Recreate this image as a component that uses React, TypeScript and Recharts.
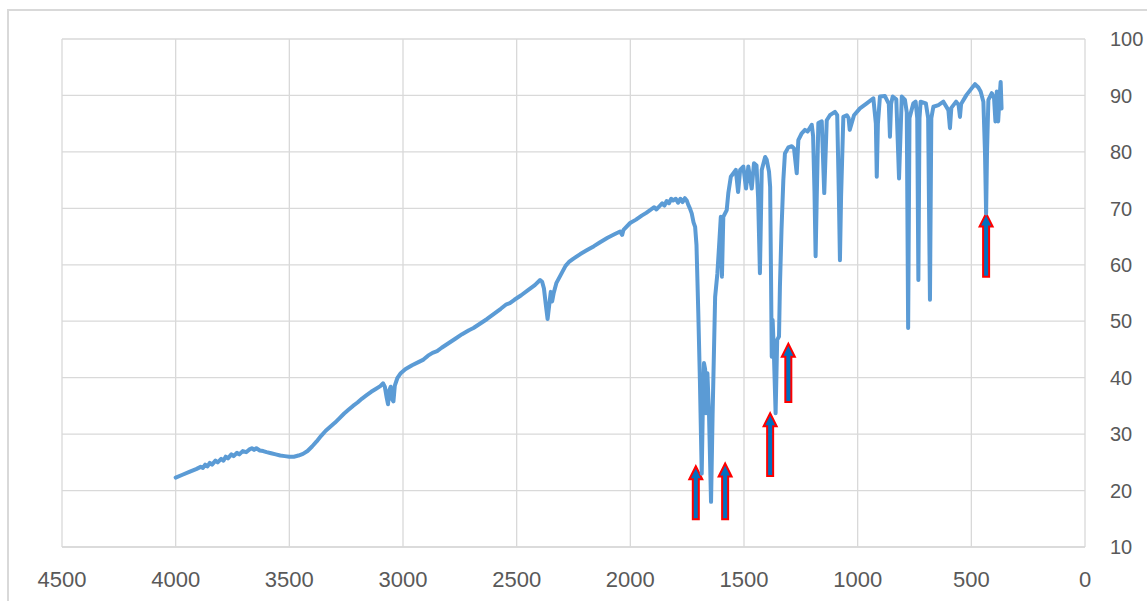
import { CartesianGrid, Line, LineChart, ReferenceArea, XAxis, YAxis } from "recharts"

// IR spectrum, values (cm-1, %T)
const wavenumbers = [
  4000, 3970, 3940, 3910, 3890, 3880, 3870, 3860, 3850, 3840, 3825, 3815, 3800, 3790, 3780, 3770,
  3755, 3745, 3730, 3720, 3705, 3690, 3675, 3665, 3655, 3645, 3630, 3615, 3600, 3580, 3560, 3540,
  3520, 3500, 3480, 3460, 3440, 3420, 3400, 3380, 3360, 3340, 3320, 3300, 3280, 3260, 3240, 3220,
  3200, 3180, 3160, 3140, 3120, 3100, 3088, 3080, 3072, 3066, 3060, 3054, 3048, 3042, 3036, 3025,
  3010, 2990, 2960, 2930, 2910, 2890, 2870, 2850, 2830, 2800, 2770, 2740, 2710, 2690, 2660, 2630,
  2600, 2570, 2545, 2530, 2510, 2480, 2450, 2420, 2397, 2388, 2380, 2372, 2364, 2357, 2350, 2344,
  2337, 2325, 2305, 2285, 2270, 2250, 2220, 2190, 2160, 2133, 2100, 2070, 2045, 2036, 2030, 2001,
  1975, 1950, 1930, 1913, 1895, 1885, 1869, 1860, 1850, 1840, 1830, 1820, 1812, 1800, 1790, 1780,
  1770, 1760, 1752, 1745, 1738, 1730, 1722, 1715, 1709, 1701, 1694, 1686, 1681, 1676, 1671, 1667,
  1661, 1654, 1645, 1638, 1627, 1617, 1608, 1602, 1597, 1591, 1576, 1569, 1558, 1545, 1536, 1526,
  1517, 1503, 1491, 1481, 1466, 1456, 1445, 1438, 1432, 1430, 1427, 1422, 1407, 1400, 1390, 1385,
  1381, 1378, 1374, 1369, 1361, 1354, 1346, 1342, 1335, 1327, 1320, 1305, 1290, 1280, 1268, 1261,
  1246, 1232, 1220, 1202, 1196, 1190, 1185, 1180, 1173, 1158, 1147, 1136, 1122, 1100, 1090, 1083,
  1078, 1073, 1063, 1048, 1040, 1035, 1016, 990, 960, 931, 920, 916, 911, 902, 880, 863,
  858, 853, 846, 830, 818, 806, 792, 784, 778, 772, 755, 745, 738, 733, 728, 723,
  700, 690, 682, 676, 667, 645, 623, 601, 594, 588, 567, 556, 550, 545, 521, 498,
  484, 469, 459, 447, 440, 435, 431, 425, 410, 400, 394, 388, 382, 376, 371, 367,
]

const transmittance = [
  22.3, 22.8, 23.3, 23.8, 24.2, 24.0, 24.6, 24.3, 24.9, 24.6, 25.3, 25.0, 25.6, 25.3, 26.0, 25.7,
  26.4, 26.1, 26.7, 26.4, 27.0, 26.8, 27.3, 27.5, 27.2, 27.5, 27.1, 27.0, 26.8, 26.6, 26.4, 26.2,
  26.1, 26.0, 26.0, 26.2, 26.5, 27.0, 27.8, 28.7, 29.7, 30.6, 31.3, 32.0, 32.8, 33.6, 34.3, 35.0,
  35.6, 36.3, 36.9, 37.5, 38.0, 38.5, 39.0, 38.4, 36.5, 35.3, 37.8, 38.4, 36.2, 35.8, 38.6, 39.9,
  40.8, 41.5, 42.2, 42.8, 43.2, 43.9, 44.4, 44.7, 45.3, 46.1, 46.9, 47.7, 48.4, 48.8, 49.6, 50.4,
  51.3, 52.2, 53.0, 53.2, 53.8, 54.6, 55.5, 56.4, 57.3, 57.0, 55.8, 53.0, 50.4, 52.8, 55.2, 53.5,
  55.0, 56.8, 58.3, 59.8, 60.5, 61.1, 61.9, 62.6, 63.3, 64.0, 64.8, 65.4, 65.9, 65.3, 66.2, 67.4,
  68.0, 68.7, 69.2, 69.7, 70.2, 69.8, 70.5, 70.9, 70.5, 71.3, 70.9, 71.7, 71.4, 71.7, 71.0, 71.7,
  71.1, 71.8, 71.4, 70.6, 70.0, 69.1, 67.5, 66.7, 63.5, 51.4, 39.6, 23.0, 35.0, 42.6, 41.5, 33.7,
  40.8, 33.7, 18.0, 33.7, 54.3, 58.5, 64.4, 68.5, 57.9, 68.5, 69.7, 72.7, 75.6, 76.3, 76.8, 72.9,
  76.8, 77.4, 73.5, 77.4, 73.5, 78.0, 77.6, 72.0, 62.0, 58.5, 65.0, 76.8, 79.1, 78.6, 76.5, 73.8,
  57.3, 43.7, 50.2, 45.0, 33.7, 46.7, 47.3, 56.1, 66.2, 75.0, 79.7, 80.8, 81.0, 80.6, 76.2, 82.1,
  83.3, 83.9, 83.6, 84.8, 82.8, 73.0, 61.5, 72.0, 85.1, 85.4, 72.7, 85.6, 86.5, 87.1, 86.5, 73.0,
  60.8, 72.0, 86.2, 86.5, 86.0, 83.9, 86.5, 87.7, 88.6, 89.5, 85.0, 75.6, 85.0, 89.8, 89.9, 88.5,
  82.7, 88.5, 89.8, 89.3, 75.3, 89.8, 89.2, 87.0, 48.8, 86.0, 88.6, 88.9, 86.0, 57.3, 86.0, 88.9,
  88.6, 86.0, 53.8, 86.0, 88.0, 88.3, 88.9, 87.4, 84.2, 87.8, 88.9, 88.3, 86.2, 88.5, 90.1, 91.3,
  92.0, 91.4, 90.7, 88.9, 80.0, 69.1, 80.0, 89.2, 90.4, 89.5, 85.4, 90.7, 85.4, 89.5, 92.4, 87.7,
]

const xTicks = [0, 500, 1000, 1500, 2000, 2500, 3000, 3500, 4000, 4500]
const yTicks = [10, 20, 30, 40, 50, 60, 70, 80, 90, 100]

// annotation arrows: wavenumber, tip value, tail value
const arrowX = [1712, 1583, 1385, 1305, 435]
const arrowTop = [24.3, 24.8, 33.7, 46.0, 69.1]
const arrowBottom = [14.9, 14.9, 22.6, 35.7, 57.9]

const data = wavenumbers.map((w, i) => ({ w, t: transmittance[i] }))

const GRID = "#d9d9d9"
const LABEL = "#595959"

function XTick({ x, y, payload }: any) {
  return (
    <text
      x={x}
      y={y + 38}
      textAnchor="middle"
      fill={LABEL}
      fontSize={22}
      fontFamily="Liberation Sans, Arial, sans-serif"
    >
      {payload.value}
    </text>
  )
}

function YTick({ x, y, payload }: any) {
  return (
    <text
      x={x + 23}
      y={y}
      dy="0.36em"
      textAnchor="start"
      fill={LABEL}
      fontSize={20}
      fontFamily="Liberation Sans, Arial, sans-serif"
    >
      {payload.value}
    </text>
  )
}

function Arrow({ x, y, width, height }: any) {
  const cx = x + (width || 0) / 2
  const bottom = y + height
  const head = 13
  const d = [
    `M${cx},${y}`,
    `L${cx + 6.5},${y + head}`,
    `L${cx + 3},${y + head}`,
    `L${cx + 3},${bottom}`,
    `L${cx - 3},${bottom}`,
    `L${cx - 3},${y + head}`,
    `L${cx - 6.5},${y + head}`,
    "Z",
  ].join(" ")
  return <path d={d} fill="#0070c0" stroke="#ff0000" strokeWidth={2} />
}

export default function App() {
  return (
    <div
      style={{
        position: "fixed",
        left: 0,
        top: 0,
        width: 1147,
        height: 601,
        overflow: "hidden",
        background: "#fff",
      }}
    >
      <div
        style={{
          position: "absolute",
          left: 7,
          top: 9,
          width: 1200,
          height: 700,
          border: `2px solid ${GRID}`,
        }}
      />
      <div style={{ position: "absolute", left: 0, top: 0 }}>
        <LineChart
          width={1147}
          height={601}
          data={data}
          margin={{ top: 39, right: 0, left: 62, bottom: 0 }}
        >
          <CartesianGrid stroke={GRID} strokeWidth={1.3} />
          <XAxis
            type="number"
            dataKey="w"
            domain={[0, 4500]}
            ticks={xTicks}
            reversed
            interval={0}
            height={54}
            tickLine={false}
            tickSize={0}
            axisLine={{ stroke: GRID, strokeWidth: 1.3 }}
            tick={(p: any) => <XTick {...p} />}
          />
          <YAxis
            orientation="right"
            type="number"
            domain={[10, 100]}
            ticks={yTicks}
            interval={0}
            width={62}
            axisLine={false}
            tickLine={false}
            tickSize={0}
            tick={(p: any) => <YTick {...p} />}
          />
          <Line
            type="linear"
            dataKey="t"
            stroke="#5b9bd5"
            strokeWidth={4}
            strokeLinejoin="round"
            strokeLinecap="round"
            dot={false}
            activeDot={false}
            isAnimationActive={false}
          />
          {arrowX.map((ax, i) => (
            <ReferenceArea
              key={i}
              x1={ax}
              x2={ax}
              y1={arrowBottom[i]}
              y2={arrowTop[i]}
              shape={(p: any) => <Arrow {...p} />}
            />
          ))}
        </LineChart>
      </div>
    </div>
  )
}
